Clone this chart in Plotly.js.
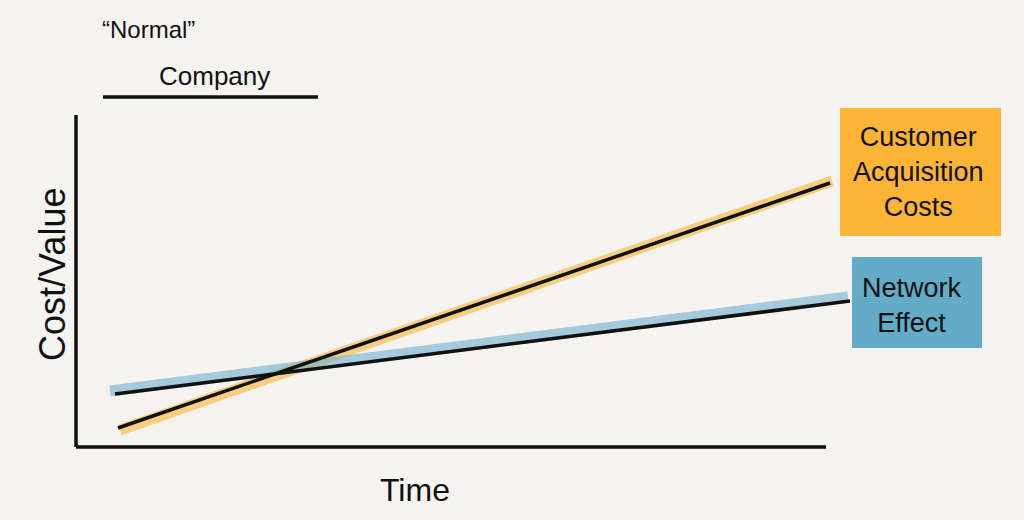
<!DOCTYPE html>
<html><head><meta charset="utf-8">
<script src="https://cdn.plot.ly/plotly-3.0.1.min.js"></script>
<style>html,body{margin:0;padding:0;background:#f4f3f0;}#chart{width:1024px;height:520px;}</style>
</head><body><div id="chart"></div>
<script>
// Time (x) and Cost/Value (y) readings of the sketched lines
const cacTime = [42, 754];
const cacValue = [19, 264];
const cacBandTime = [44, 756];
const cacBandValue = [17, 266];
const netTime = [39, 774];
const netValue = [53, 146];
const netBandTime = [34, 772];
const netBandValue = [56, 150];
const xAxisEnd = 750;
const labels = {cac: "Customer<br>Acquisition<br>Costs", net: "Network<br>Effect"};

const font = "Liberation Sans, DejaVu Sans, sans-serif";
const traces = [
  {x: cacBandTime, y: cacBandValue, mode: "lines", line: {color: "rgba(247,190,80,0.7)", width: 11}, hoverinfo: "skip"},
  {x: netBandTime, y: netBandValue, mode: "lines", line: {color: "rgba(110,175,205,0.6)", width: 11}, hoverinfo: "skip"},
  {x: cacTime, y: cacValue, mode: "lines", line: {color: "#111", width: 3.5}, name: "Customer Acquisition Costs"},
  {x: netTime, y: netValue, mode: "lines", line: {color: "#111", width: 3.5}, name: "Network Effect"}
];
function px(v){return (v-76)/774;}
function py(v){return (447-v)/332;}
function ann(text, x, y, size, extra){
  return Object.assign({text: text, xref: "paper", yref: "paper", x: px(x), y: py(y), xanchor: "center", yanchor: "middle", showarrow: false, font: {family: font, size: size, color: "#111"}}, extra || {});
}
const layout = {
  width: 1024, height: 520,
  paper_bgcolor: "#f4f3f0", plot_bgcolor: "#f4f3f0",
  margin: {l: 76, r: 174, t: 115, b: 73},
  showlegend: false,
  xaxis: {range: [0, 774], showgrid: false, zeroline: false, showticklabels: false, ticks: "", showline: false},
  yaxis: {range: [0, 332], showgrid: false, zeroline: false, showticklabels: false, ticks: "", showline: false},
  shapes: [
    {type: "line", xref: "paper", yref: "paper", x0: 0, x1: 0, y0: 0, y1: 1, line: {color: "#111", width: 3.5}},
    {type: "line", xref: "paper", yref: "paper", x0: 0, x1: px(76 + xAxisEnd), y0: 0, y1: 0, line: {color: "#111", width: 3.5}},
    {type: "line", xref: "paper", yref: "paper", x0: px(103), x1: px(318), y0: py(97), y1: py(97), line: {color: "#111", width: 3.5}},
    {type: "rect", xref: "paper", yref: "paper", x0: px(840), x1: px(1001), y0: py(236), y1: py(108), fillcolor: "#fbb435", line: {width: 0}, layer: "below"},
    {type: "rect", xref: "paper", yref: "paper", x0: px(852), x1: px(982), y0: py(348), y1: py(257), fillcolor: "#64abc7", line: {width: 0}, layer: "below"}
  ],
  annotations: [
    ann("\u201cNormal\u201d", 148, 30, 24),
    ann("Company", 214, 76, 26),
    ann("Time", 415, 490, 32),
    ann("Cost/Value", 52, 275, 36, {textangle: -90}),
    ann(labels.cac, 918, 172, 27, {align: "center"}),
    ann(labels.net, 912, 305, 27, {align: "center"})
  ]
};
Plotly.newPlot("chart", traces, layout, {displayModeBar: false, staticPlot: true});
</script></body></html>
